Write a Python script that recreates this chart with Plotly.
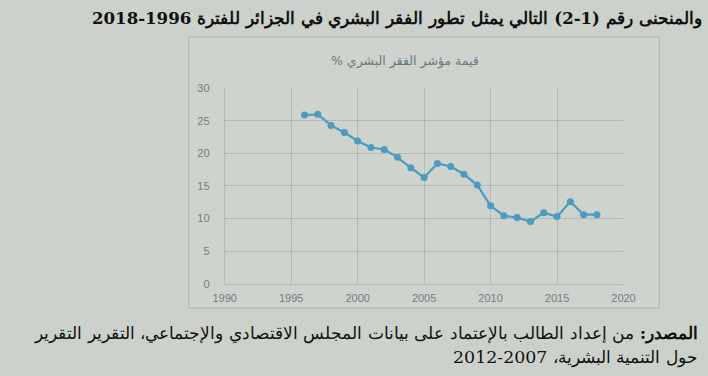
import plotly.graph_objects as go

years = list(range(1996, 2019))
hpi = [25.9, 26.0, 24.3, 23.2, 21.9, 20.9, 20.6, 19.4, 17.8, 16.3, 18.45, 18.0,
       16.8, 15.15, 11.95, 10.45, 10.15, 9.55, 10.9, 10.3, 12.6, 10.6, 10.6]

x_ticks = [1990, 1995, 2000, 2005, 2010, 2015, 2020]
y_ticks = [0, 5, 10, 15, 20, 25, 30]

RLE, PDF = "\u202b", "\u202c"
page_title = "والمنحنى رقم (1-2) التالي يمثل تطور الفقر البشري في الجزائر للفترة 1996-2018"
chart_title = "قيمة مؤشر الفقر البشري %"
source_1 = "<b>المصدر:</b> من إعداد الطالب بالإعتماد على بيانات المجلس الاقتصادي والإجتماعي، التقرير التقرير"
source_2 = "حول التنمية البشرية، 2007-2012"

line_col = "#4b9cc0"
grid_col = "rgba(130,140,140,0.35)"
tick_col = "#6f7d84"

fig = go.Figure()
fig.add_trace(go.Scatter(
    x=years, y=hpi, mode="lines+markers",
    line=dict(color=line_col, width=2.2),
    marker=dict(color=line_col, size=7),
    showlegend=False,
))

fig.update_layout(
    width=708, height=376,
    margin=dict(l=0, r=0, t=0, b=0),
    paper_bgcolor="#ccd2cb",
    plot_bgcolor="rgba(0,0,0,0)",
    xaxis=dict(domain=[0.311, 0.894], range=[1990, 2020], tickvals=x_ticks,
               showgrid=True, gridcolor=grid_col, gridwidth=1,
               showline=True, linecolor=grid_col, zeroline=False,
               tickfont=dict(family="Liberation Sans", size=11, color=tick_col),
               ticks="", ticklabelstandoff=4),
    yaxis=dict(domain=[0.237, 0.774], range=[0, 30], tickvals=y_ticks,
               showgrid=True, gridcolor=grid_col, gridwidth=1,
               showline=True, linecolor=grid_col, zeroline=False,
               tickfont=dict(family="Liberation Sans", size=11, color=tick_col),
               ticks="", ticklabelstandoff=12),
    shapes=[dict(type="rect", xref="paper", yref="paper",
                 x0=183/708, x1=670/708, y0=1-312/376, y1=1-32/376,
                 line=dict(color="rgba(150,158,155,0.6)", width=1),
                 fillcolor="rgba(255,255,255,0.05)", layer="below")],
    annotations=[
        dict(text=RLE + "<b>" + page_title + "</b>" + PDF, xref="paper", yref="paper",
             x=399/708, y=1-13/376, xanchor="center", yanchor="middle",
             showarrow=False,
             font=dict(family="DejaVu Serif", size=16.6, color="#111111")),
        dict(text=RLE + chart_title + PDF, xref="paper", yref="paper",
             x=407/708, y=1-57/376, xanchor="center", yanchor="middle",
             showarrow=False,
             font=dict(family="DejaVu Sans", size=12.5, color="#687882")),
        dict(text=RLE + source_1 + PDF, xref="paper", yref="paper",
             x=712/708, y=1-338/376, xanchor="right", yanchor="middle",
             showarrow=False,
             font=dict(family="DejaVu Serif", size=17.4, color="#111111")),
        dict(text=RLE + source_2 + PDF, xref="paper", yref="paper",
             x=712/708, y=1-363/376, xanchor="right", yanchor="middle",
             showarrow=False,
             font=dict(family="DejaVu Serif", size=17.4, color="#111111")),
    ],
)

fig.write_html("out.html")
